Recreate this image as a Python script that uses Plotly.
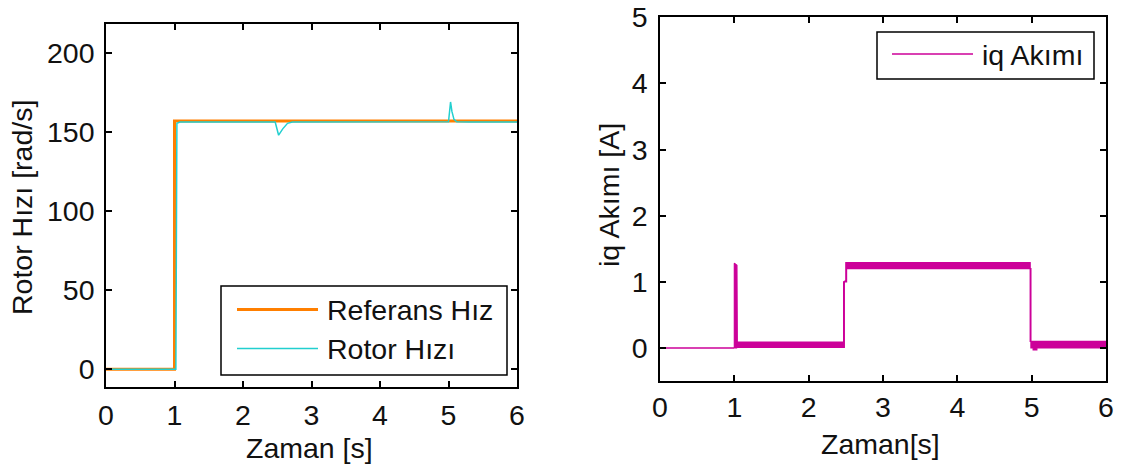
import plotly.graph_objects as go

# ---- data -------------------------------------------------------------
# speed loop: reference step and measured rotor speed [rad/s]
t_ref = [0.0, 1.0, 1.0, 6.0]
w_ref = [0.0, 0.0, 157.0, 157.0]

t_rotor = [0.0, 1.02, 1.035, 1.08, 2.47, 2.52, 2.58, 2.65, 2.72, 4.0, 5.0, 5.03, 5.05, 5.08, 5.12, 5.3, 6.0]
w_rotor = [0.0, 0.0, 155.5, 156.3, 156.3, 148.0, 152.0, 155.5, 156.3, 156.3, 156.5, 169.0, 163.0, 158.0, 156.5, 156.3, 156.3]

# q-axis current [A]: quiet part before the step, then the noisy band
iq_t_quiet = [0.0, 1.0]
iq_quiet = [0.0, 0.0]

iq_t_upper = [1.0, 1.0, 1.035, 1.04, 2.47, 2.47, 2.50, 2.50, 4.98, 4.98, 6.0]
iq_upper = [0.0, 1.28, 1.25, 0.09, 0.09, 1.00, 1.02, 1.29, 1.29, 0.10, 0.10]
iq_t_lower = [1.0, 1.03, 1.03, 2.48, 2.48, 2.51, 2.51, 4.99, 4.99, 5.02, 5.02, 5.07, 5.07, 6.0]
iq_lower = [0.0, 0.0, 0.01, 0.01, 1.00, 1.00, 1.20, 1.20, 0.00, 0.00, -0.03, -0.03, 0.00, 0.00]

x_ticks = [0, 1, 2, 3, 4, 5, 6]
w_ticks = [0, 50, 100, 150, 200]
iq_ticks = [0, 1, 2, 3, 4, 5]

# ---- styling ----------------------------------------------------------
W, H = 1121, 470
FONT = "Liberation Sans, Arial, sans-serif"
FS = 28.5
C_REF = "#FF7F00"
C_ROT = "#22CFCF"
C_IQ = "#CC0099"


def px(x):
    return x / W


def py(y):
    return 1 - y / H


fig = go.Figure()

fig.add_trace(go.Scatter(x=t_ref, y=w_ref, mode="lines", line=dict(color=C_REF, width=3),
                         xaxis="x", yaxis="y", showlegend=False, name="Referans Hız"))
fig.add_trace(go.Scatter(x=t_rotor, y=w_rotor, mode="lines", line=dict(color=C_ROT, width=1.5),
                         xaxis="x", yaxis="y", showlegend=False, name="Rotor Hızı"))

fig.add_trace(go.Scatter(x=iq_t_quiet, y=iq_quiet, mode="lines", line=dict(color=C_IQ, width=1.5),
                         xaxis="x2", yaxis="y2", showlegend=False, name="iq Akımı"))
band_t = iq_t_upper + iq_t_lower[::-1]
band_v = iq_upper + iq_lower[::-1]
fig.add_trace(go.Scatter(x=band_t, y=band_v, mode="lines", fill="toself", fillcolor=C_IQ,
                         line=dict(color=C_IQ, width=1.2), xaxis="x2", yaxis="y2",
                         showlegend=False, name="iq Akımı"))

axis_common = dict(
    showgrid=False, zeroline=False, showline=True, linecolor="black", linewidth=1.6,
    mirror="ticks", ticks="inside", ticklen=6, tickwidth=1.5, tickcolor="black",
    automargin=False,
    tickfont=dict(family=FONT, size=FS, color="#111"),
)

fig.update_layout(
    template="none",
    width=W, height=H,
    margin=dict(l=0, r=0, t=0, b=0, pad=0),
    paper_bgcolor="white", plot_bgcolor="white",
    showlegend=False,
    xaxis=dict(domain=[px(106), px(517)], range=[0, 6], tickvals=x_ticks,
               anchor="y", ticklabelstandoff=2, **axis_common),
    yaxis=dict(domain=[py(386.5), py(24)], range=[-10.9, 218.3], tickvals=w_ticks,
               anchor="x", ticklabelstandoff=4, **axis_common),
    xaxis2=dict(domain=[px(660), px(1106)], range=[0, 6], tickvals=x_ticks,
                anchor="y2", ticklabelstandoff=0, **axis_common),
    yaxis2=dict(domain=[py(381), py(17.3)], range=[-0.5, 5], tickvals=iq_ticks,
                anchor="x2", ticklabelstandoff=5, **axis_common),
)

# legend boxes with their sample lines
shapes = [
    dict(type="rect", xref="paper", yref="paper", x0=px(221), x1=px(507), y0=py(375), y1=py(286),
         line=dict(color="black", width=1.5), fillcolor="white", layer="above"),
    dict(type="line", xref="paper", yref="paper", x0=px(237), x1=px(318), y0=py(309.5), y1=py(309.5),
         line=dict(color=C_REF, width=3), layer="above"),
    dict(type="line", xref="paper", yref="paper", x0=px(237), x1=px(318), y0=py(348.5), y1=py(348.5),
         line=dict(color=C_ROT, width=1.5), layer="above"),
    dict(type="rect", xref="paper", yref="paper", x0=px(877), x1=px(1094), y0=py(79), y1=py(32),
         line=dict(color="black", width=1.5), fillcolor="white", layer="above"),
    dict(type="line", xref="paper", yref="paper", x0=px(892), x1=px(973), y0=py(54), y1=py(54),
         line=dict(color=C_IQ, width=1.5), layer="above"),
]
fig.update_layout(shapes=shapes)

tf = dict(family=FONT, size=FS, color="#111")
annotations = [
    dict(text="Referans Hız", x=px(325), y=py(310), xanchor="left", yanchor="middle"),
    dict(text="Rotor Hızı", x=px(325), y=py(349), xanchor="left", yanchor="middle"),
    dict(text="iq Akımı", x=px(980), y=py(55), xanchor="left", yanchor="middle"),
    dict(text="Zaman [s]", x=px(309), y=py(448), xanchor="center", yanchor="middle"),
    dict(text="Zaman[s]", x=px(880), y=py(444), xanchor="center", yanchor="middle"),
    dict(text="Rotor Hızı [rad/s]", x=px(22), y=py(208), xanchor="center", yanchor="middle",
         textangle=-90),
    dict(text="iq Akımı [A]", x=px(609), y=py(195), xanchor="center", yanchor="middle",
         textangle=-90),
]
for a in annotations:
    a.update(xref="paper", yref="paper", showarrow=False, font=tf)
fig.update_layout(annotations=annotations)

fig.write_html("out.html")
